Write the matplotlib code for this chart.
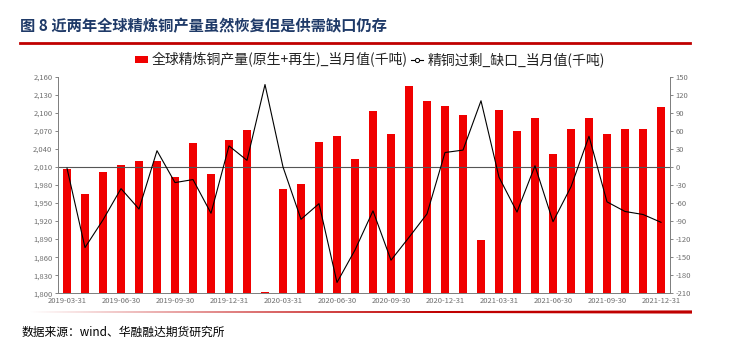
"""
图8 近两年全球精炼铜产量虽然恢复但是供需缺口仍存
柱: 全球精炼铜产量(原生+再生)_当月值 (左轴)
线: 精铜过剩_缺口_当月值 (右轴)
"""

import matplotlib
matplotlib.use("Agg")
import matplotlib.pyplot as plt
from matplotlib.lines import Line2D
from matplotlib.patches import Patch, Polygon
from matplotlib.ticker import FuncFormatter, MultipleLocator

plt.rcParams["font.family"] = ["Noto Sans CJK SC", "DejaVu Sans"]
plt.rcParams["axes.unicode_minus"] = False

# ── 数据（从图上读取，单位：千吨）──────────────────────────────
months = [
    "2019-03-31", "2019-04-30", "2019-05-31", "2019-06-30", "2019-07-31",
    "2019-08-31", "2019-09-30", "2019-10-31", "2019-11-30", "2019-12-31",
    "2020-01-31", "2020-02-29", "2020-03-31", "2020-04-30", "2020-05-31",
    "2020-06-30", "2020-07-31", "2020-08-31", "2020-09-30", "2020-10-31",
    "2020-11-30", "2020-12-31", "2021-01-31", "2021-02-28", "2021-03-31",
    "2021-04-30", "2021-05-31", "2021-06-30", "2021-07-31", "2021-08-31",
    "2021-09-30", "2021-10-31", "2021-11-30", "2021-12-31",
]
production = [
    2007, 1965, 2001, 2013, 2020, 2020, 1993, 2050, 1998, 2055,
    2071, 1802, 1973, 1981, 2052, 2061, 2024, 2103, 2065, 2145,
    2120, 2111, 2097, 1888, 2104, 2069, 2092, 2031, 2073, 2091,
    2064, 2073, 2073, 2110,
]
balance = [
    -2, -134, -88, -36, -70, 27, -26, -21, -77, 35,
    11, 137, 0, -87, -61, -192, -138, -73, -155, -117,
    -78, 24, 28, 110, -17, -75, 2, -91, -33, 51,
    -58, -74, -79, -92,
]
tick_every = 3

TITLE_BLUE = "#1f3a68"
RED = "#c00000"
BAR_RED = "#f00000"
GRAY = "#808080"
TICK_GRAY = "#707070"


def main() -> None:
    fig = plt.figure(figsize=(7.31, 3.46), dpi=100)
    fig.patch.set_facecolor("white")

    # 标题与上方红线
    fig.text(20 / 731, 1 - 26 / 346, "图 8 近两年全球精炼铜产量虽然恢复但是供需缺口仍存",
             ha="left", va="center", fontsize=11, fontweight="bold", color=TITLE_BLUE)
    fig.add_artist(Line2D([20 / 731, 690 / 731], [1 - 43 / 346, 1 - 43 / 346],
                          color=RED, lw=2.0, transform=fig.transFigure))

    ax = fig.add_axes([58 / 731, 1 - 293.3 / 346, 612 / 731, 216.6 / 346])
    ax2 = ax.twinx()

    x = list(range(len(months)))
    ax.bar(x, production, width=0.42, color=BAR_RED, zorder=2)
    ax.set_ylim(1800, 2160)
    ax.yaxis.set_major_locator(MultipleLocator(30))
    ax.yaxis.set_major_formatter(FuncFormatter(lambda v, _: f"{int(v):,}"))
    ax.set_xlim(-0.5, len(months) - 0.5)
    ax.set_xticks(x[::tick_every])
    ax.set_xticklabels(months[::tick_every])

    ax2.plot(x, balance, color="black", lw=0.8, zorder=3)
    ax2.axhline(0, color="#555555", lw=0.8, zorder=1)
    ax2.set_ylim(-210, 150)
    ax2.yaxis.set_major_locator(MultipleLocator(30))
    ax.set_zorder(ax2.get_zorder() - 1)
    ax2.patch.set_visible(False)

    for a in (ax, ax2):
        a.spines["top"].set_visible(False)
        for s in ("left", "right", "bottom"):
            a.spines[s].set_color(GRAY)
            a.spines[s].set_linewidth(0.7)
        a.tick_params(axis="both", labelsize=5.5, colors=TICK_GRAY,
                      length=2.5, width=0.6, pad=1.5)
    ax.tick_params(axis="x", length=0, pad=3)

    # 图例
    handles = [
        Patch(facecolor=BAR_RED, edgecolor="none"),
        Line2D([], [], color="black", lw=0.8, marker="o", markersize=3,
               markerfacecolor="white", markeredgewidth=0.7),
    ]
    labels = ["全球精炼铜产量(原生+再生)_当月值(千吨)", "精铜过剩_缺口_当月值(千吨)"]
    fig.legend(handles, labels, loc="center", bbox_to_anchor=(370 / 731, 1 - 60 / 346),
               ncol=2, frameon=False, fontsize=10, handlelength=0.9, handleheight=0.4,
               handletextpad=0.3, columnspacing=0.2, labelcolor="#222222")

    # 底部渐变红线（楔形）
    x0, x1 = 30 / 731, 692 / 731
    yc = 1 - 312 / 346
    wedge = Polygon([[x0, yc], [x1, yc + 1.6 / 346], [x1, yc - 1.6 / 346]],
                    closed=True, facecolor=RED, edgecolor="none",
                    transform=fig.transFigure)
    fig.add_artist(wedge)

    fig.text(22 / 731, 1 - 332 / 346, "数据来源：wind、华融融达期货研究所",
             ha="left", va="center", fontsize=8.5, style="italic", color="black")

    fig.savefig("out.png", dpi=100, facecolor="white")
    plt.close(fig)


if __name__ == "__main__":
    main()
